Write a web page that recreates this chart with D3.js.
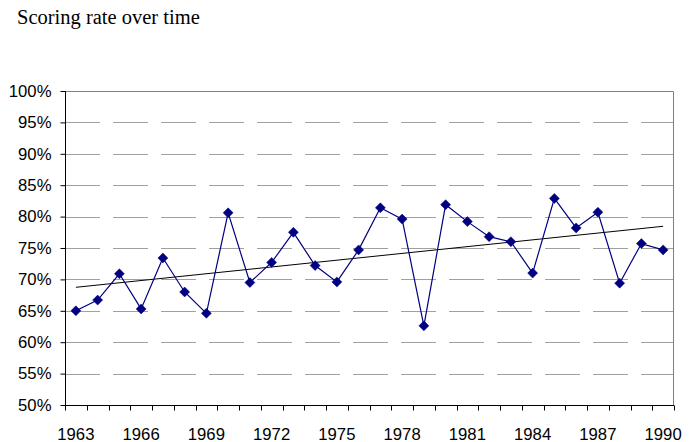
<!DOCTYPE html>
<html>
<head>
<meta charset="utf-8">
<script src="https://cdn.jsdelivr.net/npm/d3@7"></script>
<style>
  body { margin: 0; background: #fff; }
  svg { display: block; }
</style>
</head>
<body>
<div id="chart"></div>
<script>
// Data
const years = d3.range(1963, 1991);
const rates = [
  65.0, 66.7, 70.9, 65.3, 73.4, 68.0, 64.6, 80.6, 69.5, 72.7,
  77.5, 72.2, 69.6, 74.7, 81.4, 79.6, 62.6, 81.9, 79.2, 76.8,
  76.0, 71.0, 82.9, 78.2, 80.7, 69.4, 75.7, 74.7
];
const yTicks = [50, 55, 60, 65, 70, 75, 80, 85, 90, 95, 100];
const xLabels = [1963, 1966, 1969, 1972, 1975, 1978, 1981, 1984, 1987, 1990];

const width = 692, height = 442;
const margin = { top: 91, right: 18, bottom: 37, left: 65 };
const innerW = width - margin.left - margin.right;
const innerH = height - margin.top - margin.bottom;

const svg = d3.select('#chart')
  .append('svg')
  .attr('width', width)
  .attr('height', height);

// Title
svg.append('text')
  .attr('x', 17)
  .attr('y', 24)
  .style('font-family', '"Liberation Serif", "Times New Roman", serif')
  .style('font-size', '20.5px')
  .style('fill', '#000')
  .text('Scoring rate over time');

const g = svg.append('g')
  .attr('transform', `translate(${margin.left},${margin.top})`);

// Scales
const x = d3.scaleBand()
  .domain(years)
  .range([0, innerW]);

const y = d3.scaleLinear()
  .domain([50, 100])
  .range([innerH, 0]);

// Dashed gridlines
g.append('g')
  .selectAll('line')
  .data(yTicks.filter(d => d > 50 && d < 100))
  .join('line')
  .attr('x1', 0)
  .attr('x2', innerW)
  .attr('y1', d => Math.round(y(d)) + 0.5)
  .attr('y2', d => Math.round(y(d)) + 0.5)
  .style('stroke', '#a0a0a0')
  .style('stroke-width', 1)
  .style('stroke-dasharray', '35,13');

// Plot area border (top, right)
g.append('path')
  .attr('d', `M0,0.5H${innerW - 0.5}V${innerH}`)
  .style('fill', 'none')
  .style('stroke', '#808080')
  .style('stroke-width', 1);

// Y axis
const yAxis = g.append('g')
  .attr('transform', 'translate(0.5,0)')
  .call(d3.axisLeft(y)
    .tickValues(yTicks)
    .tickSize(5)
    .tickPadding(9)
    .tickFormat(d => d + '%'));

// X axis: ticks at category boundaries, labels every 3 years
const boundaries = years.map(d => x(d)).concat([innerW]);
const xAxis = g.append('g')
  .attr('transform', `translate(0,${innerH + 0.5})`);

xAxis.append('line')
  .attr('x1', 0)
  .attr('x2', innerW)
  .style('stroke', '#000');

xAxis.selectAll('line.tick')
  .data(boundaries)
  .join('line')
  .attr('class', 'tick')
  .attr('x1', d => Math.round(d) + 0.5)
  .attr('x2', d => Math.round(d) + 0.5)
  .attr('y1', 0)
  .attr('y2', 5)
  .style('stroke', '#000');

xAxis.selectAll('text')
  .data(xLabels)
  .join('text')
  .attr('x', d => x(d) + x.bandwidth() / 2)
  .attr('y', 34)
  .attr('text-anchor', 'middle')
  .text(d => d);

[yAxis, xAxis].forEach(ax => {
  ax.selectAll('text')
    .style('font-family', '"Liberation Sans", Arial, sans-serif')
    .style('font-size', '16.7px')
    .style('fill', '#000');
  ax.selectAll('path, line').style('stroke', '#000');
});
yAxis.select('.domain').attr('d', `M-0,0V${innerH}`);

// Linear trendline (least squares)
const idx = years.map((d, i) => i);
const mx = d3.mean(idx), my = d3.mean(rates);
const slope = d3.sum(idx, i => (i - mx) * (rates[i] - my)) / d3.sum(idx, i => (i - mx) ** 2);
const intercept = my - slope * mx;
const trend = [0, years.length - 1].map(i => ({ year: years[i], v: intercept + slope * i }));

const cx = d => x(d) + x.bandwidth() / 2;

g.append('path')
  .datum(trend)
  .attr('d', d3.line().x(d => cx(d.year)).y(d => y(d.v)))
  .style('fill', 'none')
  .style('stroke', '#000')
  .style('stroke-width', 1);

// Series line
const series = years.map((d, i) => ({ year: d, v: rates[i] }));
g.append('path')
  .datum(series)
  .attr('d', d3.line().x(d => cx(d.year)).y(d => y(d.v)))
  .style('fill', 'none')
  .style('stroke', '#000080')
  .style('stroke-width', 1.2);

// Diamond markers
g.append('g')
  .selectAll('path')
  .data(series)
  .join('path')
  .attr('transform', d => `translate(${cx(d.year)},${y(d.v)})`)
  .attr('d', 'M0,-5L5,0L0,5L-5,0Z')
  .style('fill', '#000080')
  .style('stroke', '#000080')
  .style('stroke-width', 0.5);
</script>
</body>
</html>
